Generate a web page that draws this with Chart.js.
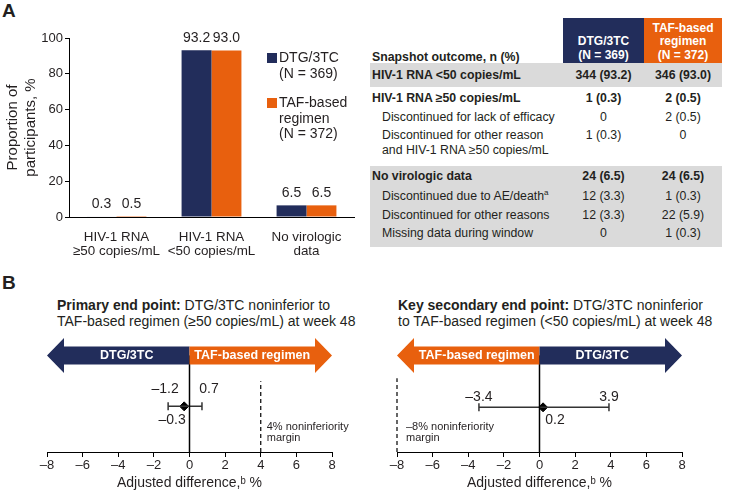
<!DOCTYPE html>
<html>
<head>
<meta charset="utf-8">
<script src="https://cdn.jsdelivr.net/npm/chart.js@4.4.1/dist/chart.umd.min.js"></script>
<style>
  body { margin: 0; width: 745px; height: 492px; position: relative; overflow: hidden; background: #fff;
         font-family: "Liberation Sans", Arial, sans-serif; color: #231f20; }
  .abs { position: absolute; }
  .panel { font-weight: bold; font-size: 19px; }
  .legend { font-size: 14px; line-height: 15.5px; }
  .swatch { width: 10px; height: 10px; }
  .ftitle { font-size: 14px; line-height: 16px; white-space: nowrap; }
  #table { left: 370px; top: 18px; width: 352px; font-size: 12.3px; }
  .row { display: flex; }
  .row > div { box-sizing: border-box; }
  .c0 { width: 193px; padding-left: 2px; }
  .c1 { width: 81px; text-align: center; }
  .c2 { width: 78px; text-align: center; }
  .hdr { height: 45px; align-items: flex-end; }
  .hdr .c1, .hdr .c2 { height: 45px; color: #fff; font-weight: bold; line-height: 13.5px; font-size: 12px;
                        display: flex; flex-direction: column; justify-content: flex-end; padding-bottom: 1px; }
  .hdr .c0 { font-weight: bold; line-height: 12px; padding-bottom: 0; }
  .gray { background: #dadada; }
  .bold { font-weight: bold; }
  .ind .c0 { padding-left: 12px; }
  .mid { align-items: center; }
  .top { align-items: flex-start; padding-top: 2px; line-height: 15px; }
  sup { font-size: 8px; line-height: 0; }
</style>
</head>
<body>
<div class="abs panel" style="left:2px;top:0px;">A</div>
<div class="abs panel" style="left:2px;top:272px;">B</div>

<canvas id="bars" class="abs" width="360" height="262" style="left:0;top:0;"></canvas>
<div class="abs swatch" id="sw1" style="left:267px;top:53px;"></div>
<div class="abs legend" style="left:279px;top:50px;">DTG/3TC<br>(N = 369)</div>
<div class="abs swatch" id="sw2" style="left:267px;top:98px;"></div>
<div class="abs legend" style="left:279px;top:95px;">TAF-based<br>regimen<br>(N = 372)</div>

<div class="abs" id="table"></div>

<div class="abs ftitle" style="left:57px;top:297px;"><b>Primary end point:</b> DTG/3TC noninferior to<br>TAF-based regimen (≥50 copies/mL) at week 48</div>
<div class="abs ftitle" style="left:398px;top:297px;"><b>Key secondary end point:</b> DTG/3TC noninferior<br>to TAF-based regimen (&lt;50 copies/mL) at week 48</div>
<canvas id="primary" class="abs" width="370" height="162" style="left:0;top:330px;"></canvas>
<canvas id="secondary" class="abs" width="375" height="162" style="left:370px;top:330px;"></canvas>

<script>
// ---- data ----
const categories = [["HIV-1 RNA", "≥50 copies/mL"], ["HIV-1 RNA", "<50 copies/mL"], ["No virologic", "data"]];
const dtgValues = [0.3, 93.2, 6.5];
const tafValues = [0.5, 93.0, 6.5];

const tableLabels = [
  "HIV-1 RNA <50 copies/mL",
  "HIV-1 RNA ≥50 copies/mL",
  "Discontinued for lack of efficacy",
  "Discontinued for other reason<br>and HIV-1 RNA ≥50 copies/mL",
  "No virologic data",
  "Discontinued due to AE/death<sup>a</sup>",
  "Discontinued for other reasons",
  "Missing data during window"
];
const tableDTG = ["344 (93.2)", "1 (0.3)", "0", "1 (0.3)", "24 (6.5)", "12 (3.3)", "12 (3.3)", "0"];
const tableTAF = ["346 (93.0)", "2 (0.5)", "2 (0.5)", "0", "24 (6.5)", "1 (0.3)", "22 (5.9)", "1 (0.3)"];

const primaryCI = [-1.2, 0.7];
const primaryEstimate = -0.3;
const primaryMargin = 4;
const secondaryCI = [-3.4, 3.9];
const secondaryEstimate = 0.2;
const secondaryMargin = -8;

// ---- styles ----
const NAVY = "#222d5b";
const ORANGE = "#e8600e";
const INK = "#231f20";
const FONT = '"Liberation Sans", Arial, sans-serif';

Chart.defaults.font.family = FONT;
Chart.defaults.color = INK;

document.getElementById("sw1").style.background = NAVY;
document.getElementById("sw2").style.background = ORANGE;

// =====================
// Table
// =====================
(() => {
  const rowH = [24, 21, 18, 38, 20, 19, 19, 21];
  const boldRows = [0, 1, 4];
  const grayRows = [0, 4, 5, 6, 7];
  const topRows = [3, 7];
  let html = `<div class="row hdr"><div class="c0">Snapshot outcome, n (%)</div>
    <div class="c1" style="background:${NAVY}">DTG/3TC<br>(N = 369)</div>
    <div class="c2" style="background:${ORANGE}">TAF-based<br>regimen<br>(N = 372)</div></div>`;
  tableLabels.forEach((lab, i) => {
    const cls = ["row",
      grayRows.includes(i) ? "gray" : "",
      boldRows.includes(i) ? "bold" : "ind",
      topRows.includes(i) ? "top" : "mid"].join(" ");
    html += `<div class="${cls}" style="height:${rowH[i]}px"><div class="c0">${lab}</div><div class="c1">${tableDTG[i]}</div><div class="c2">${tableTAF[i]}</div></div>`;
  });
  document.getElementById("table").innerHTML = html;
})();

// =====================
// Bar chart
// =====================
const barValueLabels = {
  id: "barValueLabels",
  afterDatasetsDraw(chart) {
    const { ctx } = chart;
    ctx.save();
    ctx.font = `14px ${FONT}`;
    ctx.fillStyle = INK;
    ctx.textAlign = "center";
    ctx.textBaseline = "bottom";
    chart.data.datasets.forEach((ds, di) => {
      chart.getDatasetMeta(di).data.forEach((bar, i) => {
        ctx.fillText(ds.data[i].toFixed(1), bar.x, bar.y - 5);
      });
    });
    ctx.restore();
  }
};

new Chart(document.getElementById("bars"), {
  type: "bar",
  data: {
    labels: categories,
    datasets: [
      { label: "DTG/3TC", data: dtgValues, backgroundColor: NAVY },
      { label: "TAF-based regimen", data: tafValues, backgroundColor: ORANGE }
    ]
  },
  options: {
    responsive: false,
    animation: false,
    layout: { padding: { top: 38, right: 6, left: 0, bottom: 0 } },
    datasets: { bar: { categoryPercentage: 0.63, barPercentage: 1 } },
    plugins: { legend: { display: false }, tooltip: { enabled: false } },
    scales: {
      x: {
        grid: { display: false },
        border: { color: "#000", width: 1 },
        ticks: { font: { size: 13.4, lineHeight: 1.08 }, padding: 5, maxRotation: 0, autoSkip: false },
        afterFit(s) { s.height = 45; }
      },
      y: {
        min: 0, max: 100,
        ticks: { stepSize: 20, font: { size: 13 }, padding: 2 },
        grid: { drawOnChartArea: false, tickLength: 4, color: "#000" },
        border: { color: "#000", width: 1 },
        title: { display: true, text: ["Proportion of", "participants, %"], font: { size: 15, lineHeight: 1.25 }, padding: { top: 3, bottom: 0 } },
        afterFit(s) { s.width = 69; }
      }
    }
  },
  plugins: [barValueLabels]
});

// =====================
// Forest plots
// =====================
const ARROW_BODY = 9;   // px half height
const ARROW_HEAD = 17.5;
const ARROW_LEN = 17;

function fmt(v) {
  return v < 0 ? "\u2013" + Math.abs(v).toFixed(1) : v.toFixed(1);
}

const arrowBand = {
  id: "arrowBand",
  afterDatasetsDraw(chart, args, opts) {
    const { ctx, scales: { x, y } } = chart;
    const cy = y.getPixelForValue(opts.y);
    const x0 = x.getPixelForValue(0);
    ctx.save();
    opts.arrows.forEach(a => {
      const tip = x.getPixelForValue(a.to < 0 ? x.min : x.max);
      const dir = Math.sign(a.to);
      const base = tip - dir * ARROW_LEN;
      ctx.beginPath();
      ctx.moveTo(x0, cy - ARROW_BODY);
      ctx.lineTo(base, cy - ARROW_BODY);
      ctx.lineTo(base, cy - ARROW_HEAD);
      ctx.lineTo(tip, cy);
      ctx.lineTo(base, cy + ARROW_HEAD);
      ctx.lineTo(base, cy + ARROW_BODY);
      ctx.lineTo(x0, cy + ARROW_BODY);
      ctx.closePath();
      ctx.fillStyle = a.color;
      ctx.fill();
      ctx.fillStyle = "#fff";
      ctx.font = `bold 12.5px ${FONT}`;
      ctx.textAlign = "center";
      ctx.textBaseline = "middle";
      ctx.fillText(a.label, (x0 + base) / 2, cy + 0.5);
    });
    ctx.restore();
  }
};

const forestText = {
  id: "forestText",
  afterDatasetsDraw(chart, args, opts) {
    const { ctx, scales: { x, y } } = chart;
    ctx.save();
    ctx.fillStyle = INK;
    ctx.textBaseline = "middle";
    opts.items.forEach(t => {
      ctx.font = `${t.size || 14}px ${FONT}`;
      ctx.textAlign = t.align || "center";
      ctx.fillText(t.text, x.getPixelForValue(t.x) + (t.dx || 0), y.getPixelForValue(t.y));
    });
    ctx.restore();
  }
};

function forest(id, ci, est, margin, rowY, marginTop, arrows, labelOffsets, padLeft, padRight) {
  const marginTxt = (margin < 0 ? "\u2013" + Math.abs(margin) : margin) + "% noninferiority";
  return new Chart(document.getElementById(id), {
    type: "scatter",
    data: {
      datasets: [
        { data: [{ x: 0, y: 0 }, { x: 0, y: 9.95 }], showLine: true, borderColor: "#000", borderWidth: 1.5, pointRadius: 0 },
        { data: [{ x: margin, y: 0 }, { x: margin, y: marginTop }], showLine: true, borderColor: "#000", borderWidth: 1.2, borderDash: [4, 3], pointRadius: 0 },
        { data: [{ x: ci[0], y: rowY }, { x: ci[1], y: rowY }], showLine: true, borderColor: "#333", borderWidth: 1.5,
          pointStyle: "line", rotation: 90, pointRadius: 4, pointBorderWidth: 1.5, pointBorderColor: "#333" },
        { data: [{ x: est, y: rowY }], pointStyle: "rectRot", pointRadius: 4.5, backgroundColor: "#000", borderColor: "#000" }
      ]
    },
    options: {
      responsive: false,
      animation: false,
      clip: false,
      layout: { padding: { top: 2, left: padLeft, right: padRight, bottom: 0 } },
      plugins: {
        legend: { display: false },
        tooltip: { enabled: false },
        arrowBand: { y: 9.95, arrows },
        forestText: {
          items: [
            { x: ci[0], y: labelOffsets.ciY, text: fmt(ci[0]), dx: labelOffsets.lowDx },
            { x: ci[1], y: labelOffsets.ciY, text: fmt(ci[1]), dx: labelOffsets.highDx },
            { x: est, y: 3.3, text: fmt(est), dx: labelOffsets.estDx },
            { x: margin, y: 2.6, text: marginTxt, dx: labelOffsets.mDx, align: "left", size: 11 },
            { x: margin, y: 1.4, text: "margin", dx: labelOffsets.mDx, align: "left", size: 11 }
          ]
        }
      },
      scales: {
        x: {
          type: "linear", min: -8, max: 8,
          ticks: { stepSize: 2, font: { size: 13 }, padding: 1, callback: v => (v < 0 ? "\u2013" + Math.abs(v) : v) },
          grid: { drawOnChartArea: false, tickLength: 5, color: "#000" },
          border: { color: "#000", width: 1 },
          title: { display: true, text: "Adjusted difference,\u1d47 %", font: { size: 14 }, padding: { top: 0, bottom: 0 } },
          afterFit(s) { s.height = 40; }
        },
        y: { type: "linear", min: 0, max: 12, display: false }
      }
    },
    plugins: [arrowBand, forestText]
  });
}

forest("primary", primaryCI, primaryEstimate, primaryMargin, 4.7, 7.3,
  [{ to: -8, color: NAVY, label: "DTG/3TC" }, { to: 8, color: ORANGE, label: "TAF-based regimen" }],
  { ciY: 6.5, lowDx: -3, highDx: 7, estDx: -12, mDx: 6 }, 47, 38);

forest("secondary", secondaryCI, secondaryEstimate, secondaryMargin, 4.6, 7.6,
  [{ to: -8, color: ORANGE, label: "TAF-based regimen" }, { to: 8, color: NAVY, label: "DTG/3TC" }],
  { ciY: 5.7, lowDx: 0, highDx: 0, estDx: 12, mDx: 9 }, 27, 63);
</script>
</body>
</html>
